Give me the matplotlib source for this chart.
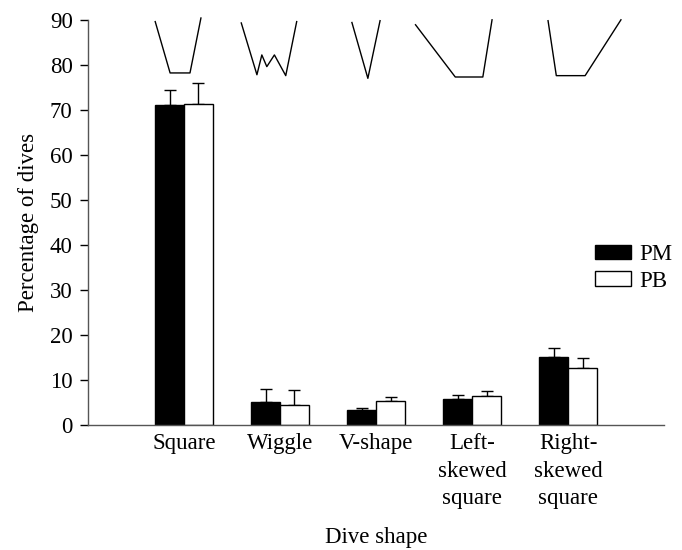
import matplotlib
matplotlib.use("Agg")
import matplotlib.pyplot as plt
import numpy as np

plt.rcParams['font.family'] = ['Liberation Serif', 'DejaVu Serif']

shapes = ["Square", "Wiggle", "V-shape", "Left-\nskewed\nsquare", "Right-\nskewed\nsquare"]
pm = [71.0, 5.1, 3.3, 5.7, 15.2]
pm_err = [3.5, 3.0, 0.5, 1.1, 2.0]
pb = [71.2, 4.5, 5.3, 6.5, 12.7]
pb_err = [4.8, 3.3, 0.9, 1.1, 2.1]

# little dive profile sketches above each group (offset from group centre, value)
icon_x = [
    [-0.30, -0.145, 0.062, 0.176],
    [-0.404, -0.241, -0.19, -0.138, -0.059, 0.059, 0.173],
    [-0.252, -0.086, 0.041],
    [-0.59, -0.176, 0.111, 0.207],
    [-0.21, -0.124, 0.176, 0.549],
]
icon_y = [
    [89.6, 78.2, 78.2, 90.4],
    [89.3, 77.8, 82.2, 79.6, 82.2, 77.6, 89.6],
    [89.4, 77.0, 89.8],
    [88.9, 77.3, 77.3, 90.0],
    [89.8, 77.6, 77.6, 90.0],
]

fig = plt.figure(figsize=(6.82, 5.5), dpi=100)
ax = fig.add_axes([0.129, 0.227, 0.845, 0.737])

x = np.arange(len(shapes))
w = 0.3
ax.bar(x - w/2, pm, w, color='black', edgecolor='black', linewidth=1,
       label='PM', zorder=2)
ax.bar(x + w/2, pb, w, color='white', edgecolor='black', linewidth=1,
       label='PB', zorder=2)
ax.errorbar(x - w/2, pm, yerr=[np.zeros(5), pm_err], fmt='none', ecolor='black',
            elinewidth=1, capsize=4, capthick=1, zorder=1)
ax.errorbar(x + w/2, pb, yerr=[np.zeros(5), pb_err], fmt='none', ecolor='black',
            elinewidth=1, capsize=4, capthick=1, zorder=1)

for i in range(len(shapes)):
    ax.plot(i + np.array(icon_x[i]), icon_y[i], color='black', lw=1, clip_on=False)

fs = 16.5
ax.set_xlim(-1, 5)
ax.set_ylim(0, 90)
ax.set_yticks(range(0, 91, 10))
ax.set_xticks(x)
ax.set_xticklabels(shapes, fontsize=fs, linespacing=1.4)
ax.tick_params(axis='x', length=0, pad=6)
ax.tick_params(axis='y', labelsize=fs, length=6, width=1, direction='out', pad=5)
for s in ['top', 'right']:
    ax.spines[s].set_visible(False)
for s in ['left', 'bottom']:
    ax.spines[s].set_color('#555555')
    ax.spines[s].set_linewidth(1)

ax.set_ylabel('Percentage of dives', fontsize=fs, labelpad=8)
ax.set_xlabel('Dive shape', fontsize=fs, labelpad=13)

ax.legend(loc='upper left', bbox_to_anchor=(0.86, 0.475), frameon=False, fontsize=fs,
          handlelength=1.55, handleheight=0.6, handletextpad=0.4, labelspacing=0.25,
          borderpad=0)

fig.savefig('out.png', dpi=100)
